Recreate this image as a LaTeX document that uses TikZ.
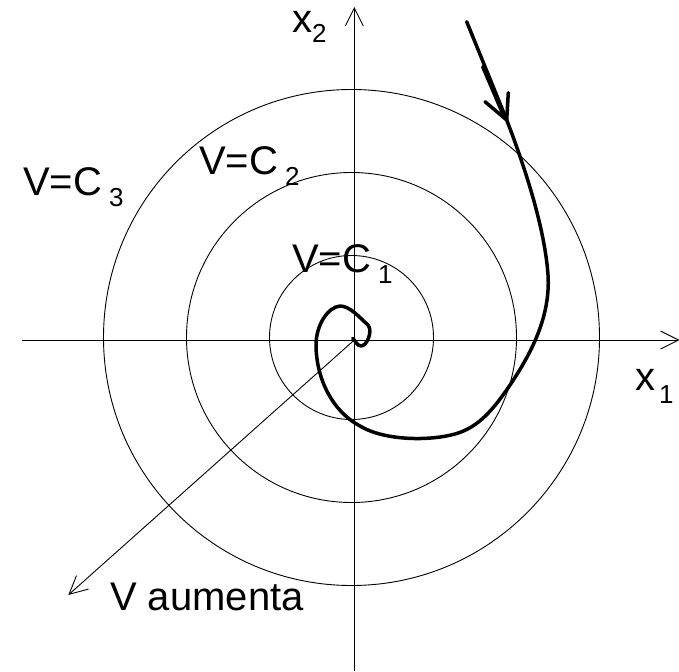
\documentclass[tikz,border=0pt]{standalone}
\usepackage{fontspec}
\setmainfont{Liberation Sans}
\usetikzlibrary{arrows.meta}
\newcommand{\mysub}[3]{{\fontsize{26}{26}\selectfont\raisebox{-#2}{\hspace{#1}#3}}}
\begin{document}
\begin{tikzpicture}[x=1pt,y=-1pt,
  thinline/.style={line width=0.9pt},
  traj/.style={line width=3.5pt, line join=round, line cap=round},
  lab/.style={anchor=base west, inner sep=0pt, font=\fontsize{40}{48}\selectfont},
  barb/.style={-{Straight Barb[length=18pt,width=18pt,line width=0.9pt]}}]
\useasboundingbox (0,0) rectangle (679,671);
% level curves
\coordinate (O) at (351.5,337.5);
\draw[thinline] (O) circle[radius=82pt];
\draw[thinline] (O) circle[radius=165pt];
\draw[thinline] (O) circle[radius=248pt];
% axes
\coordinate (C) at (354.3,340);
\coordinate (xl) at (21.7,340);
\coordinate (xr) at (679.5,340);
\coordinate (yb) at (354.3,671);
\coordinate (yt) at (354.3,7);
\coordinate (D) at (68.3,595);
\draw[thinline,barb] (xl) -- (xr);
\draw[thinline,barb] (yb) -- (yt);
\draw[thinline,barb] (C) -- (D);
% labels
\node[lab] (lx2) at (292,33) {x\mysub{0pt}{10pt}{2}};
\node[lab] (lx1) at (635,390) {x\mysub{4pt}{13pt}{1}};
\node[lab] (lc3) at (23,195) {V=C\mysub{7pt}{11pt}{3}};
\node[lab] (lc2) at (199,175) {V=C\mysub{7pt}{11pt}{2}};
\node[lab] (lc1) at (292,272) {V=C\mysub{7pt}{11pt}{1}};
\node[lab] (lva) at (110,610) {V aumenta};
% trajectory
\draw[traj] (466.7,21.7) -- (506.7,120)
 .. controls (526,170) and (545,230) .. (548,275)
 .. controls (551,320) and (527,360) .. (508,388)
 .. controls (490,414) and (476,428) .. (455,434)
 .. controls (430,441) and (385,441) .. (360,426)
 .. controls (330,410) and (316,375) .. (316,345)
 .. controls (316,325) and (328,307) .. (340,306)
 .. controls (350,306) and (360,318) .. (368,325)
 .. controls (373,331) and (367,346) .. (361,346)
 .. controls (357,346) and (355,340) .. (352.7,338.3);
% arrowhead on trajectory
\coordinate (T) at (506.7,120);
\coordinate (A1) at (485,101.7);
\coordinate (A2) at (508.3,92.7);
\coordinate (S1) at (482.7,66.7);
\coordinate (S2) at (504.5,118);
\draw[traj] (S1) -- (S2);
\draw[traj] (A1) -- (T) -- (A2);
\end{tikzpicture}
\end{document}
